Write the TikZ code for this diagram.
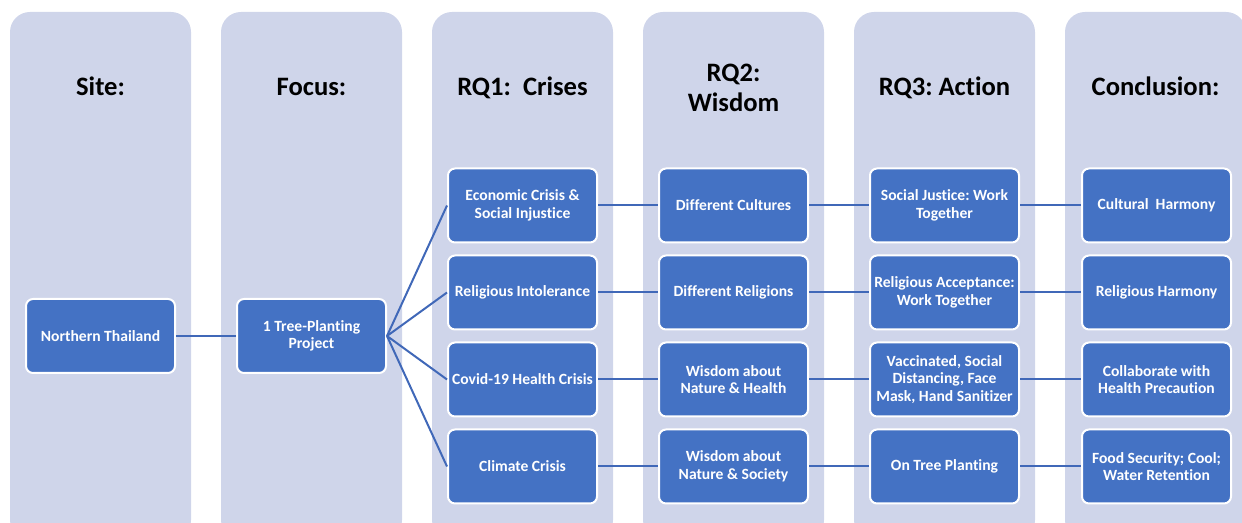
\documentclass[tikz,border=0pt]{standalone}
\usepackage{fontspec}
\setmainfont{Carlito}[Ligatures=NoCommon]
\frenchspacing
\definecolor{colbg}{HTML}{CFD5EA}
\definecolor{boxblue}{HTML}{4472C4}
\definecolor{linkblue}{HTML}{4068B8}
\begin{document}
\begin{tikzpicture}[x=1pt,y=1pt,
  col/.style={fill=colbg, draw=none, rounded corners=20pt},
  box/.style={draw=white, line width=2pt, fill=boxblue, rounded corners=7pt,
    minimum width=149pt, minimum height=74pt, text=white,
    font=\bfseries\fontsize{15.6}{17.5}\selectfont, align=center, inner sep=1pt},
  head/.style={font=\bfseries\fontsize{26.6}{30}\selectfont, align=center, inner sep=0pt, anchor=base},
  link/.style={draw=linkblue, line width=2pt}]
\useasboundingbox (0,0) rectangle (1242,522);
\clip (0,0) rectangle (1242,522);
% columns
\foreach \i in {0,...,5}{
  \path[col] ({10+211*\i},510) rectangle ({191+211*\i},-18);
}
% headings
\node[head] (h1) at (100.5,426) {Site:};
\node[head] (h2) at (311.5,426) {Focus:};
\node[head] (h3) at (522.5,426) {RQ1:\ \ Crises};
\node[head] (h4) at (733.5,410) {RQ2:\\Wisdom};
\node[head] (h5) at (944.5,426) {RQ3: Action};
\node[head] (h6) at (1155.5,426) {Conclusion:};
% boxes
\node[box] (site) at (100.5,186) {Northern Thailand};
\node[box] (focus) at (311.5,186) {1 Tree-Planting\\Project};
\node[box] (r1) at (522.5,316.5) {Economic Crisis \&\\Social Injustice};
\node[box] (r2) at (522.5,229.5) {Religious Intolerance};
\node[box] (r3) at (522.5,142.5) {Covid-19 Health Crisis};
\node[box] (r4) at (522.5,55.5) {Climate Crisis};
\node[box] (w1) at (733.5,316.5) {Different Cultures};
\node[box] (w2) at (733.5,229.5) {Different Religions};
\node[box] (w3) at (733.5,142.5) {Wisdom about\\Nature \& Health};
\node[box] (w4) at (733.5,55.5) {Wisdom about\\Nature \& Society};
\node[box] (a1) at (944.5,316.5) {Social Justice: Work\\Together};
\node[box] (a2) at (944.5,229.5) {Religious Acceptance:\\Work Together};
\node[box] (a3) at (944.5,142.5) {Vaccinated, Social\\Distancing, Face\\Mask, Hand Sanitizer};
\node[box] (a4) at (944.5,55.5) {On Tree Planting};
\node[box] (c1) at (1156.5,316.5) {Cultural\ \ Harmony};
\node[box] (c2) at (1156.5,229.5) {Religious Harmony};
\node[box] (c3) at (1156.5,142.5) {Collaborate with\\Health Precaution};
\node[box] (c4) at (1156.5,55.5) {Food Security; Cool;\\Water Retention};
% connectors
\draw[link] (site.east) -- (focus.west);
\foreach \n in {1,...,4}{
  \draw[link] (focus.east) -- (r\n.west);
  \draw[link] (r\n.east) -- (w\n.west);
  \draw[link] (w\n.east) -- (a\n.west);
  \draw[link] (a\n.east) -- (c\n.west);
}
\end{tikzpicture}
\end{document}
